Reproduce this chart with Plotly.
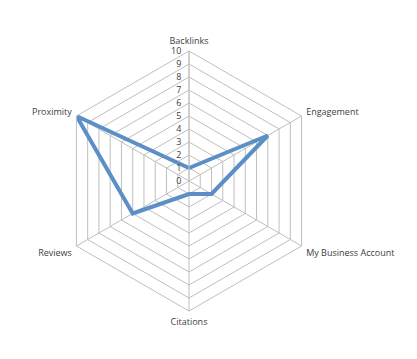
import plotly.graph_objects as go

categories = ["Backlinks", "Engagement", "My Business Account", "Citations", "Reviews", "Proximity"]
values = [1, 7, 2, 1, 5, 10]
radial_ticks = list(range(0, 11))

W, H = 417, 359
cx, cy, R = 189, 181, 130

fig = go.Figure()
fig.add_trace(go.Scatterpolar(
    r=values + [values[0]],
    theta=categories + [categories[0]],
    mode="lines",
    line=dict(color="#5B8FC6", width=4),
    showlegend=False,
    hoverinfo="skip",
))

grid = "#BFBFBF"
fig.update_layout(
    width=W, height=H,
    margin=dict(l=0, r=0, t=0, b=0),
    paper_bgcolor="white",
    plot_bgcolor="white",
    font=dict(family="Open Sans, Liberation Sans, sans-serif", size=9, color="#404040"),
    polar=dict(
        bgcolor="white",
        gridshape="linear",
        domain=dict(x=[(cx - R) / W, (cx + R) / W], y=[(H - cy - R) / H, (H - cy + R) / H]),
        radialaxis=dict(
            range=[0, 10],
            tickvals=radial_ticks,
            ticktext=[str(t) for t in radial_ticks],
            angle=90,
            tickangle=90,
            side="counterclockwise",
            showline=True,
            linecolor=grid,
            linewidth=1,
            gridcolor=grid,
            gridwidth=1,
            ticks="outside",
            ticklen=4,
            tickcolor="rgba(0,0,0,0)",
            tickfont=dict(size=9, color="#404040"),
        ),
        angularaxis=dict(
            rotation=90,
            direction="clockwise",
            showline=True,
            linecolor=grid,
            linewidth=1,
            gridcolor=grid,
            gridwidth=1,
            ticks="outside",
            ticklen=3,
            tickcolor="rgba(0,0,0,0)",
            tickfont=dict(size=9, color="#404040"),
        ),
    ),
)

fig.write_html("out.html")
